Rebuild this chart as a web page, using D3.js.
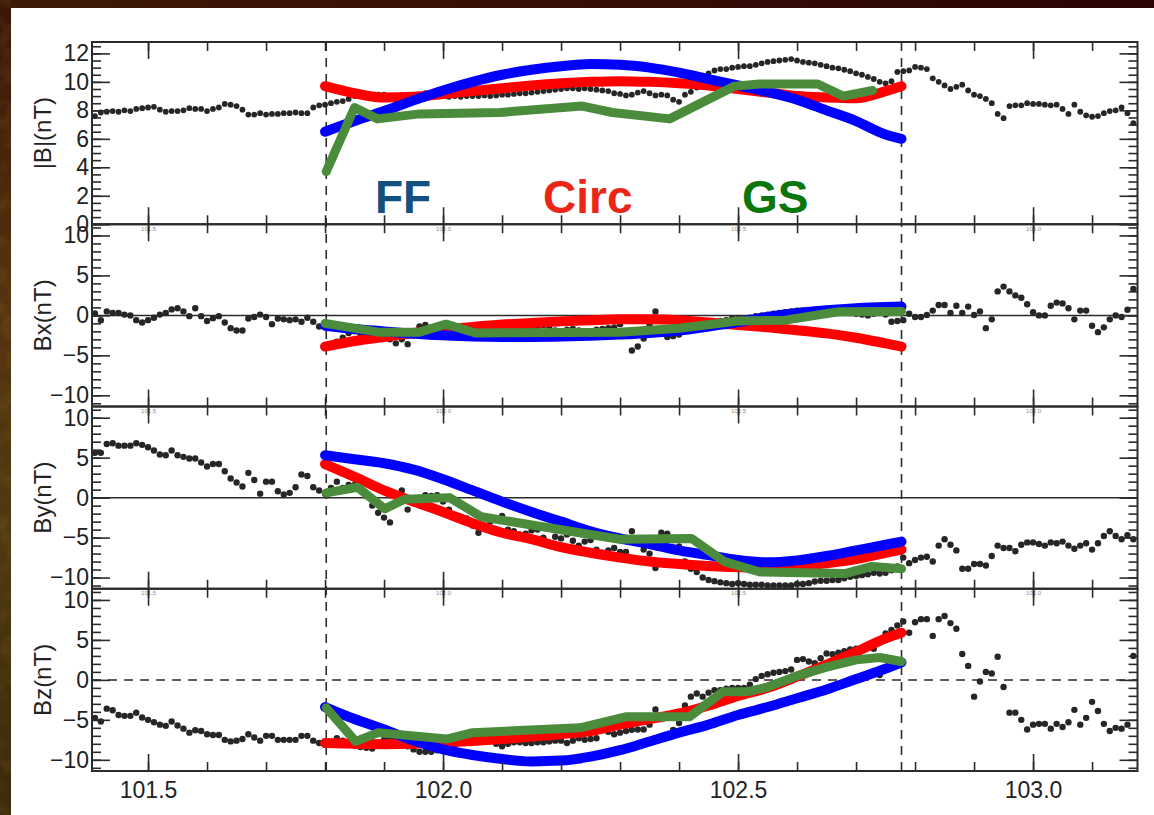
<!DOCTYPE html>
<html>
<head>
<meta charset="utf-8">
<script src="https://cdn.jsdelivr.net/npm/d3@7"></script>
<style>
  html, body { margin: 0; padding: 0; background: #3b1708; }
  svg { display: block; }
</style>
</head>
<body>
<svg id="chart" width="1154" height="815"></svg>
<script>
// ---------------- observations (one sample every 0.01 day from 101.41) ----------------
const obsStart = 101.41;
const obsStep = 0.01;

const bMag = [
  7.6,7.85,7.9,7.95,7.9,8.0,7.95,8.1,8.15,8.2,
  8.25,8.05,7.9,7.95,7.95,8.0,8.15,8.1,8.1,7.95,
  8.1,8.2,8.45,8.4,8.3,8.05,7.7,7.7,7.8,7.7,
  7.75,7.75,7.8,7.8,7.85,7.8,7.8,8.2,8.35,8.4,
  8.5,8.6,8.65,8.8,9.0,9.05,9.1,9.0,9.1,9.1,
  8.95,8.9,9.0,8.95,9.0,9.1,9.2,9.1,9.05,9.0,
  8.95,9.0,8.95,9.0,9.0,9.0,9.05,9.0,9.05,9.1,
  9.1,9.15,9.2,9.2,9.25,9.3,9.35,9.4,9.45,9.5,
  9.55,9.55,9.5,9.55,9.5,9.45,9.4,9.35,9.2,9.15,
  9.05,9.1,9.25,9.35,9.2,9.05,9.1,9.05,8.75,8.6,
  9.1,9.3,9.6,9.9,10.6,10.8,10.9,10.9,11.0,11.05,
  11.1,11.1,11.2,11.3,11.4,11.45,11.5,11.55,11.6,11.5,
  11.4,11.35,11.3,11.2,11.1,11.0,10.95,10.85,10.75,10.6,
  10.5,10.35,10.2,10.0,9.9,10.05,10.7,10.75,10.8,11.05,
  11.0,10.9,10.25,10.0,9.75,9.5,9.65,9.8,9.4,9.1,
  9.0,8.8,8.5,7.75,7.45,8.3,8.35,8.35,8.5,8.45,
  8.45,8.4,8.35,8.4,8.1,7.75,8.4,7.9,7.65,7.55,
  7.6,7.8,7.95,8.0,8.2,7.8,7.1
];

const bx = [
  0.25,-0.6,0.5,0.3,0.3,0.1,0.0,-0.6,-0.9,-0.6,
  -0.3,0.1,0.3,0.75,0.9,0.5,-0.1,0.9,-0.1,-0.7,
  -0.35,-0.1,-0.9,-1.6,-1.9,-1.9,-0.4,-0.2,0.1,-0.2,
  -1.1,-0.4,-0.5,-0.6,-0.5,-0.8,-0.3,-0.8,-1.4,-1.1,
  -1.5,-3.3,-2.8,-2.2,-2.0,-2.3,-2.5,-2.4,-2.6,-2.8,
  -3.0,-3.5,-3.0,-3.6,-2.5,-1.4,-1.2,-1.6,-2.0,-1.8,
  -1.9,-2.1,-2.0,-1.8,-1.6,-1.5,-1.8,-2.0,-1.7,-1.3,
  -1.5,-1.8,-1.6,-1.4,-1.7,-1.5,-1.2,-1.6,-1.9,-2.0,
  -1.8,-1.7,-1.9,-2.1,-2.0,-1.8,-1.7,-1.6,-1.5,-1.1,
  -2.2,-4.4,-3.9,-2.9,-1.2,0.5,-1.8,-2.7,-2.6,-2.4,
  -2.0,-1.8,-1.6,-1.4,-1.2,-1.0,-0.7,-0.6,-0.4,-0.4,
  -0.5,-0.3,-0.1,0.0,0.1,0.2,0.3,0.4,0.5,0.6,
  0.6,0.5,0.7,0.7,0.8,0.6,0.5,0.4,0.3,0.2,
  0.1,0.0,0.2,0.3,0.1,-0.8,-0.7,-0.6,0.2,-0.2,
  -0.2,0.05,0.6,1.3,1.3,0.3,1.2,0.3,1.1,0.05,
  0.5,-1.6,-0.5,3.0,3.6,3.0,2.5,2.2,1.4,0.4,
  0.0,0.0,1.2,1.6,1.5,0.9,-0.5,0.6,0.6,-1.3,
  -2.1,-1.5,-0.5,0.0,-0.2,0.7,3.3
];

const by = [
  5.6,5.6,6.7,6.8,6.5,6.5,6.5,6.8,6.6,6.3,
  5.9,5.4,5.3,5.9,5.3,5.1,4.9,4.9,4.4,3.9,
  4.2,4.2,3.3,2.4,1.9,1.4,3.1,2.2,0.5,2.0,
  2.0,0.8,0.4,0.6,1.3,2.9,2.7,1.3,0.9,0.5,
  1.2,2.0,1.2,1.6,1.6,0.9,0.2,-1.0,-1.9,-2.5,
  -3.1,-0.8,0.9,-1.5,-0.5,0.0,0.3,0.2,0.3,-0.5,
  -1.5,-0.3,-2.4,-2.6,-3.5,-4.4,-3.8,-3.0,-2.6,-2.3,
  -4.0,-4.2,-4.6,-4.5,-4.1,-4.0,-5.0,-5.6,-4.9,-5.1,
  -4.6,-5.4,-6.0,-5.5,-5.3,-6.5,-6.9,-6.6,-6.3,-6.8,
  -6.8,-4.2,-5.6,-6.5,-7.0,-8.8,-4.4,-4.5,-5.3,-6.1,
  -8.0,-8.9,-9.3,-10.0,-10.3,-10.45,-10.6,-10.7,-10.8,-10.7,
  -10.8,-10.9,-10.9,-10.9,-11.0,-11.0,-11.0,-11.0,-11.0,-10.8,
  -10.8,-10.7,-10.5,-10.4,-10.4,-10.3,-10.3,-10.1,-9.9,-9.8,
  -9.7,-9.6,-9.4,-9.5,-9.4,-9.1,-8.6,-7.5,-8.2,-7.8,
  -7.5,-7.4,-8.0,-6.0,-5.2,-5.9,-6.6,-8.9,-8.9,-8.3,
  -8.3,-8.5,-7.3,-6.0,-6.3,-6.3,-6.7,-5.9,-5.6,-5.6,
  -5.8,-6.0,-5.6,-5.7,-5.5,-6.0,-6.4,-6.0,-5.7,-6.5,
  -5.7,-4.8,-4.2,-4.8,-5.2,-4.7,-5.2
];

const bz = [
  -4.75,-5.2,-3.6,-3.8,-4.4,-4.5,-4.5,-4.1,-4.7,-5.0,
  -5.3,-5.6,-5.75,-5.2,-5.7,-6.1,-6.6,-6.3,-6.4,-6.8,
  -6.9,-6.9,-7.5,-7.7,-7.6,-7.4,-6.8,-7.2,-7.6,-7.0,
  -7.0,-7.5,-7.5,-7.5,-7.5,-7.0,-7.0,-7.6,-7.9,-8.1,
  -7.8,-7.3,-7.6,-8.0,-8.2,-8.4,-8.5,-8.6,-8.0,-7.5,
  -7.4,-7.4,-7.8,-8.3,-8.7,-9.0,-9.0,-9.0,-8.8,-8.5,
  -8.4,-8.1,-7.8,-7.6,-7.4,-7.4,-7.4,-7.6,-8.0,-8.3,
  -8.0,-7.8,-7.8,-7.9,-7.9,-7.8,-7.8,-7.7,-7.6,-7.6,
  -7.9,-7.6,-7.3,-7.5,-7.4,-7.3,-5.4,-6.5,-6.8,-6.6,
  -6.4,-6.25,-6.2,-6.2,-5.6,-3.7,-7.3,-7.0,-6.25,-5.4,
  -3.2,-2.1,-1.7,-2.1,-1.6,-1.3,-1.3,-1.1,-1.0,-1.0,
  -1.0,-0.6,0.1,0.5,0.7,0.9,1.0,1.1,1.3,2.5,
  2.6,2.3,2.1,2.7,3.3,3.2,3.4,3.6,3.8,3.9,
  4.0,4.1,3.9,0.6,5.8,6.25,6.8,7.3,5.9,7.2,
  7.6,7.6,5.5,7.6,8.0,7.1,6.4,3.25,1.75,-2.1,
  -0.2,1.0,0.8,2.9,-0.9,-4.1,-4.1,-5.0,-6.2,-5.6,
  -5.5,-5.5,-6.1,-5.5,-5.9,-5.3,-3.75,-5.6,-4.75,-2.75,
  -3.9,-5.5,-6.4,-6.0,-6.1,-5.6,3.0
];

// ---------------- flux-rope model fits inside the interval ----------------
const modelTime = [101.80,101.85,101.90,101.95,102.00,102.05,102.10,102.15,102.20,102.25,
                   102.30,102.35,102.40,102.45,102.50,102.55,102.60,102.65,102.70,102.75,102.777];

const ffMag   = [6.5,7.25,7.95,8.7,9.4,10.0,10.5,10.85,11.1,11.25,11.2,11.0,10.65,10.2,9.75,9.3,8.75,8.0,7.25,6.3,6.0];
const circMag = [9.7,9.2,8.9,8.95,9.15,9.35,9.55,9.75,9.9,10.0,10.05,10.0,9.9,9.75,9.5,9.25,9.0,8.9,8.85,9.35,9.7];

const ffBx   = [-1.3,-1.7,-2.0,-2.3,-2.5,-2.65,-2.7,-2.7,-2.65,-2.55,-2.4,-2.2,-1.9,-1.4,-0.85,-0.2,0.3,0.65,0.9,1.05,1.1];
const circBx = [-3.9,-3.2,-2.7,-2.2,-1.8,-1.45,-1.15,-0.95,-0.75,-0.6,-0.5,-0.5,-0.6,-0.9,-1.2,-1.5,-1.85,-2.25,-2.8,-3.5,-3.9];

const ffBy   = [5.3,4.8,4.3,3.5,2.3,0.9,-0.5,-1.8,-3.0,-4.2,-5.1,-5.8,-6.6,-7.2,-7.8,-8.1,-7.85,-7.3,-6.6,-5.9,-5.5];
const circBy = [4.2,2.6,0.9,-0.5,-1.8,-3.2,-4.4,-5.2,-6.2,-6.9,-7.5,-8.0,-8.3,-8.55,-8.7,-8.75,-8.55,-8.2,-7.7,-6.9,-6.5];

const ffBz   = [-3.4,-4.9,-6.2,-7.6,-8.7,-9.4,-9.9,-10.2,-10.1,-9.6,-8.8,-7.7,-6.6,-5.6,-4.4,-3.4,-2.3,-1.2,0.1,1.4,2.2];
const circBz = [-7.9,-8.0,-8.05,-8.0,-7.85,-7.65,-7.4,-7.1,-6.8,-6.4,-5.6,-4.9,-4.2,-3.2,-2.0,-1.0,0.4,1.9,3.5,5.2,5.9];

// Grad-Shafranov reconstruction sampled along the spacecraft path
const gsMagTime = [101.802,101.850,101.889,101.960,102.096,102.236,102.287,102.384,102.494,102.537,102.635,102.678,102.728];
const gsMag     = [3.7,8.2,7.4,7.75,7.85,8.3,7.85,7.4,9.7,9.85,9.85,9.0,9.4];

const gsBxTime = [101.800,101.890,101.960,102.005,102.055,102.300,102.400,102.500,102.580,102.670,102.777];
const gsBx     = [-1.0,-2.1,-2.1,-1.1,-2.2,-2.1,-1.6,-0.7,-0.6,0.45,0.5];

const gsByTime = [101.802,101.855,101.901,101.935,102.011,102.065,102.299,102.421,102.477,102.537,102.681,102.727,102.777];
const gsBy     = [0.6,1.3,-1.4,-0.2,0.0,-2.4,-5.2,-5.1,-8.0,-9.3,-9.5,-8.6,-8.9];

const gsBzTime = [101.802,101.852,101.890,102.006,102.050,102.232,102.311,102.418,102.474,102.515,102.550,102.600,102.650,102.700,102.740,102.777];
const gsBz     = [-3.5,-7.7,-6.6,-7.4,-6.6,-6.0,-4.6,-4.6,-1.5,-1.5,-0.9,0.5,1.6,2.5,2.8,2.3];

// ---------------- axes text ----------------
const xTickValues = [101.5, 102.0, 102.5, 103.0];
const xTickLabels = ["101.5", "102.0", "102.5", "103.0"];
const magTicks = [0, 2, 4, 6, 8, 10, 12];
const magTickLabels = ["0", "2", "4", "6", "8", "10", "12"];
const compTicks = [-10, -5, 0, 5, 10];
const compTickLabels = ["\u221210", "\u22125", "0", "5", "10"];
const panelTitles = ["|B|(nT)", "Bx(nT)", "By(nT)", "Bz(nT)"];
const boundaryTimes = [101.802, 102.777];
const legendNames = ["FF", "Circ", "GS"];

// ---------------- layout & style ----------------
const W = 1154, H = 815;
const frame = { left: 92, right: 1137.5, top: 42, bottom: 771 };
const panelH = (frame.bottom - frame.top) / 4;
const FONT = "'Liberation Sans', Arial, Helvetica, sans-serif";
const INK = "#2b2b2b";
const colors = { ff: "#0000ff", circ: "#ff0000", gs: "#4b8c3c", obs: "#262626" };
const legendColors = { FF: "#14507f", Circ: "#ec2616", GS: "#0b760b" };

const svg = d3.select("#chart");
const defs = svg.append("defs");

// ---------------- backdrop ----------------
const bgGrad = defs.append("linearGradient").attr("id", "bgGrad")
  .attr("x1", 0).attr("y1", 0).attr("x2", 0).attr("y2", 1);
[["0", "#3a1407"], ["0.35", "#55320f"], ["0.65", "#4d3a11"], ["1", "#3b2a0c"]]
  .forEach(([o, c]) => bgGrad.append("stop").attr("offset", o).attr("stop-color", c));

const topGrad = defs.append("linearGradient").attr("id", "topGrad")
  .attr("x1", 0).attr("y1", 0).attr("x2", 1).attr("y2", 0);
[["0", "#3e1a08"], ["0.4", "#3a0f06"], ["1", "#2a0404"]]
  .forEach(([o, c]) => topGrad.append("stop").attr("offset", o).attr("stop-color", c));

const grain = defs.append("filter").attr("id", "grain")
  .attr("x", 0).attr("y", 0).attr("width", 1).attr("height", 1);
grain.append("feTurbulence").attr("type", "fractalNoise")
  .attr("baseFrequency", 0.06).attr("numOctaves", 2).attr("seed", 7);
grain.append("feColorMatrix").attr("type", "matrix")
  .attr("values", "0 0 0 0 0.42  0 0 0 0 0.22  0 0 0 0 0.05  1.2 0 0 0 -0.5");

svg.append("rect").attr("width", W).attr("height", H).attr("fill", "url(#bgGrad)");
svg.append("rect").attr("width", W).attr("height", 9).attr("fill", "url(#topGrad)");
svg.append("rect").attr("width", 11).attr("height", H).attr("filter", "url(#grain)").attr("opacity", 0.35);
svg.append("rect").attr("x", 11).attr("y", 8).attr("width", W - 11).attr("height", H - 8).attr("fill", "#ffffff");

// ---------------- scales ----------------
const x = d3.scaleLinear().domain([101.405, 103.177]).range([frame.left, frame.right]);
const obsTime = bMag.map((_, i) => +(obsStart + i * obsStep).toFixed(2));
const xMinor = d3.range(101.5, 103.2, 0.1).map(v => +v.toFixed(1)).filter(v => v >= 101.405 && v <= 103.177);

const panels = [
  { title: panelTitles[0], domain: [0, 12.8], ticks: magTicks, labels: magTickLabels,
    minor: d3.range(0, 12.8, 0.5), obs: bMag, ff: ffMag, circ: circMag, gsT: gsMagTime, gs: gsMag, zero: null, r: 2.9 },
  { title: panelTitles[1], domain: [-11.4, 11.4], ticks: compTicks, labels: compTickLabels,
    minor: d3.range(-11, 12, 1), obs: bx, ff: ffBx, circ: circBx, gsT: gsBxTime, gs: gsBx, zero: "solid", r: 3.2 },
  { title: panelTitles[2], domain: [-11.4, 11.4], ticks: compTicks, labels: compTickLabels,
    minor: d3.range(-11, 12, 1), obs: by, ff: ffBy, circ: circBy, gsT: gsByTime, gs: gsBy, zero: "solid", r: 3.2 },
  { title: panelTitles[3], domain: [-11.4, 11.4], ticks: compTicks, labels: compTickLabels,
    minor: d3.range(-11, 12, 1), obs: bz, ff: ffBz, circ: circBz, gsT: gsBzTime, gs: gsBz, zero: "dashed", r: 3.2 }
];

// interval boundaries (dashed verticals through all panels)
svg.append("g").selectAll("line").data(boundaryTimes).join("line")
  .attr("x1", d => x(d)).attr("x2", d => x(d))
  .attr("y1", frame.top).attr("y2", frame.bottom)
  .attr("stroke", INK).attr("stroke-width", 1.6).attr("stroke-dasharray", "9,7");

function styleAxis(g, fontSize) {
  g.select(".domain").remove();
  g.selectAll(".tick line").attr("stroke", INK).attr("stroke-width", 1.6);
  g.selectAll(".tick text").attr("fill", "#222").attr("font-family", FONT).attr("font-size", fontSize);
}

panels.forEach((p, i) => {
  const y0 = frame.top + i * panelH;
  const y1 = y0 + panelH;
  const y = d3.scaleLinear().domain(p.domain).range([y1, y0]);

  defs.append("clipPath").attr("id", "clip" + i)
    .append("rect").attr("x", frame.left).attr("y", y0)
    .attr("width", frame.right - frame.left).attr("height", panelH);

  const g = svg.append("g");
  const data = g.append("g").attr("clip-path", `url(#clip${i})`);

  if (p.zero) {
    data.append("line")
      .attr("x1", frame.left).attr("x2", frame.right)
      .attr("y1", y(0)).attr("y2", y(0))
      .attr("stroke", INK).attr("stroke-width", 1.5)
      .attr("stroke-dasharray", p.zero === "dashed" ? "9,7" : null);
  }

  // observed field
  data.append("g").selectAll("circle").data(p.obs).join("circle")
    .attr("cx", (d, j) => x(obsTime[j]))
    .attr("cy", d => y(d))
    .attr("r", p.r)
    .attr("fill", colors.obs);

  const smooth = d3.line().x((d, j) => x(modelTime[j])).y(d => y(d)).curve(d3.curveMonotoneX);
  const poly = t => d3.line().x((d, j) => x(t[j])).y(d => y(d));

  data.append("path").attr("d", smooth(p.circ))
    .attr("fill", "none").attr("stroke", colors.circ).attr("stroke-width", 10)
    .attr("stroke-linecap", "round").attr("stroke-linejoin", "round");
  data.append("path").attr("d", smooth(p.ff))
    .attr("fill", "none").attr("stroke", colors.ff).attr("stroke-width", 10)
    .attr("stroke-linecap", "round").attr("stroke-linejoin", "round");
  data.append("path").attr("d", poly(p.gsT)(p.gs))
    .attr("fill", "none").attr("stroke", colors.gs).attr("stroke-width", 9)
    .attr("stroke-linecap", "round").attr("stroke-linejoin", "round");

  // y axes (left with labels, right mirrored), ticks pointing inward
  g.append("g").attr("transform", `translate(${frame.left},0)`)
    .call(d3.axisLeft(y).tickValues(p.minor).tickSizeInner(-9).tickSizeOuter(0).tickFormat(""))
    .call(a => styleAxis(a, 0));
  g.append("g").attr("transform", `translate(${frame.left},0)`)
    .call(d3.axisLeft(y).tickValues(p.ticks).tickSizeInner(-18).tickSizeOuter(0).tickPadding(3)
      .tickFormat((d, j) => p.labels[j]))
    .call(a => styleAxis(a, 23));
  g.append("g").attr("transform", `translate(${frame.right},0)`)
    .call(d3.axisRight(y).tickValues(p.minor).tickSizeInner(-9).tickSizeOuter(0).tickFormat(""))
    .call(a => styleAxis(a, 0));
  g.append("g").attr("transform", `translate(${frame.right},0)`)
    .call(d3.axisRight(y).tickValues(p.ticks).tickSizeInner(-18).tickSizeOuter(0).tickFormat(""))
    .call(a => styleAxis(a, 0));

  // x axes on top and bottom of every panel
  g.append("g").attr("transform", `translate(0,${y0})`)
    .call(d3.axisTop(x).tickValues(xMinor).tickSizeInner(-9).tickSizeOuter(0).tickFormat(""))
    .call(a => styleAxis(a, 0));
  g.append("g").attr("transform", `translate(0,${y0})`)
    .call(d3.axisTop(x).tickValues(xTickValues).tickSizeInner(-17).tickSizeOuter(0).tickFormat(""))
    .call(a => styleAxis(a, 0));
  g.append("g").attr("transform", `translate(0,${y1})`)
    .call(d3.axisBottom(x).tickValues(xMinor).tickSizeInner(-9).tickSizeOuter(0).tickFormat(""))
    .call(a => styleAxis(a, 0));
  const last = i === panels.length - 1;
  g.append("g").attr("transform", `translate(0,${y1})`)
    .call(d3.axisBottom(x).tickValues(xTickValues).tickSizeInner(-17).tickSizeOuter(0)
      .tickPadding(last ? 11 : 2).tickFormat((d, j) => xTickLabels[j]))
    .call(a => styleAxis(a, last ? 23 : 6))
    .call(a => { if (!last) a.selectAll(".tick text").attr("fill", "#8a8a8a"); });

  // panel frame
  g.append("rect").attr("x", frame.left).attr("y", y0)
    .attr("width", frame.right - frame.left).attr("height", panelH)
    .attr("fill", "none").attr("stroke", INK).attr("stroke-width", 2);

  // y title
  g.append("text")
    .attr("transform", `translate(42,${(y0 + y1) / 2}) rotate(-90)`)
    .attr("text-anchor", "middle").attr("dominant-baseline", "central")
    .attr("font-family", FONT).attr("font-size", 24).attr("fill", "#222")
    .text(p.title);
});

// model names
const legendPos = [[375, 213], [543, 213], [742, 213]];
svg.append("g").selectAll("text").data(legendNames).join("text")
  .attr("x", (d, i) => legendPos[i][0]).attr("y", (d, i) => legendPos[i][1])
  .attr("font-family", FONT).attr("font-weight", "bold").attr("font-size", 46)
  .attr("fill", d => legendColors[d])
  .text(d => d);
</script>
</body>
</html>
